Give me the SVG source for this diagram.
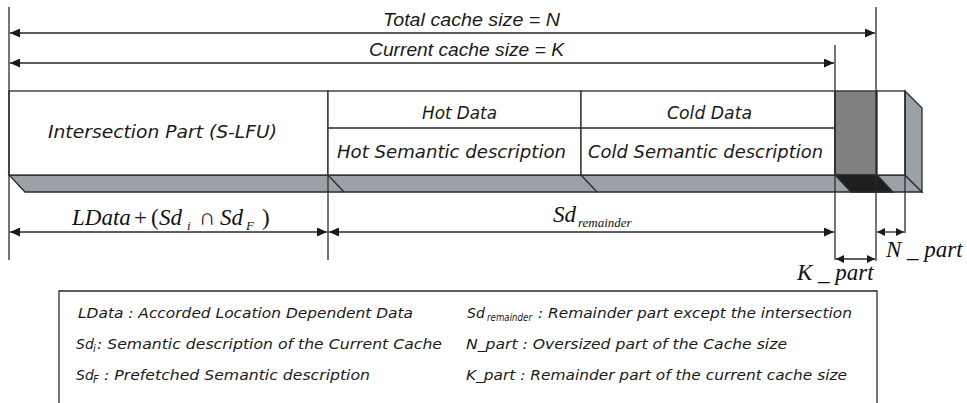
<svg xmlns="http://www.w3.org/2000/svg" width="967" height="403" viewBox="0 0 967 403">
<style>
.ln{stroke:#2a2a2a;stroke-width:1.3;fill:none}
.bx{stroke:#2a2a2a;stroke-width:1.3}
.sans{font-family:"DejaVu Sans","Liberation Sans",sans-serif;font-style:oblique;fill:#1a1a1a}
.top{font-family:"Liberation Sans",Arial,sans-serif;font-style:italic;font-size:19px;fill:#1a1a1a}
.cell{font-size:17px}
.leg{font-size:14px}
.sub{font-size:10px}
.math{font-family:"Liberation Serif","Times New Roman",serif;font-size:23px;fill:#111}
.it{font-style:italic}
.msub{font-size:13px;font-style:italic}
</style>
<defs>
<marker id="ah" markerUnits="userSpaceOnUse" markerWidth="11" markerHeight="9" refX="10" refY="4.5" orient="auto-start-reverse">
<path d="M0,0 L10,4.5 L0,9 z" fill="#1a1a1a"/>
</marker>
<marker id="ahs" markerUnits="userSpaceOnUse" markerWidth="9" markerHeight="8" refX="8" refY="4" orient="auto-start-reverse">
<path d="M0,0 L8,4 L0,8 z" fill="#1a1a1a"/>
</marker>
</defs>
<rect width="967" height="403" fill="#fff"/>

<g id="bottom-face">
<polygon class="bx" points="9,175 905,175 922,192 25,192" fill="#9ca1a8"/>
<line class="ln" x1="328" y1="175" x2="344" y2="192"/>
<line class="ln" x1="581" y1="175" x2="597" y2="192"/>
</g>
<g id="side-face">
<polygon class="bx" points="905,91 922,108 922,192 905,175" fill="#9ca1a8"/>
</g>
<g id="intersection-part">
<rect class="bx" x="9" y="91" width="319" height="84" fill="#fff"/>
<text class="sans cell" x="48" y="138" textLength="229" lengthAdjust="spacingAndGlyphs">Intersection Part (S-LFU)</text>
</g>
<g id="hot-data">
<rect class="bx" x="328" y="91" width="253" height="84" fill="#fff"/>
<line class="ln" x1="328" y1="128" x2="581" y2="128"/>
<text class="sans cell" x="422" y="119" textLength="75" lengthAdjust="spacingAndGlyphs">Hot Data</text>
<text class="sans cell" x="337" y="158" textLength="229" lengthAdjust="spacingAndGlyphs">Hot Semantic description</text>
</g>
<g id="cold-data">
<rect class="bx" x="581" y="91" width="254" height="84" fill="#fff"/>
<line class="ln" x1="581" y1="128" x2="835" y2="128"/>
<text class="sans cell" x="667" y="119" textLength="85" lengthAdjust="spacingAndGlyphs">Cold Data</text>
<text class="sans cell" x="588" y="158" textLength="235" lengthAdjust="spacingAndGlyphs">Cold Semantic description</text>
</g>
<g id="k-part-block">
<rect class="bx" x="835" y="91" width="42" height="84" fill="#808080"/>
<polygon class="bx" points="835,175 877,175 893,192 851,192" fill="#1e1e1e"/>
</g>
<g id="n-part-block">
<rect class="bx" x="877" y="91" width="28" height="84" fill="#fff"/>
</g>

<g id="connectors">
<line class="ln" x1="9" y1="7" x2="9" y2="260"/>
<line class="ln" x1="876" y1="7" x2="876" y2="261"/>
<line class="ln" x1="835" y1="45" x2="835" y2="260"/>
<line class="ln" x1="328" y1="175" x2="328" y2="260"/>
<line class="ln" x1="905" y1="91" x2="905" y2="233"/>
<line class="ln" x1="10" y1="33" x2="875" y2="33" marker-start="url(#ah)" marker-end="url(#ah)"/>
<line class="ln" x1="10" y1="63" x2="834" y2="63" marker-start="url(#ah)" marker-end="url(#ah)"/>
<line class="ln" x1="10" y1="232" x2="327" y2="232" marker-start="url(#ah)" marker-end="url(#ah)"/>
<line class="ln" x1="329" y1="232" x2="834" y2="232" marker-start="url(#ah)" marker-end="url(#ah)"/>
<line class="ln" x1="877" y1="232" x2="904" y2="232" marker-start="url(#ahs)" marker-end="url(#ahs)"/>
<line class="ln" x1="836" y1="259" x2="875" y2="259" marker-start="url(#ahs)" marker-end="url(#ahs)"/>
</g>

<g id="labels">
<text class="top" x="383" y="26" textLength="177" lengthAdjust="spacingAndGlyphs">Total cache size = N</text>
<text class="top" x="369" y="56" textLength="195" lengthAdjust="spacingAndGlyphs">Current cache size = K</text>
<text class="math"><tspan class="it" x="72" y="225">LData</tspan><tspan x="134" y="225">+</tspan><tspan x="151" y="225">(</tspan><tspan class="it" x="159" y="225">Sd</tspan><tspan class="msub" x="187" y="230">i</tspan><tspan x="199" y="225">∩</tspan><tspan class="it" x="220" y="225">Sd</tspan><tspan class="msub" x="246" y="230">F</tspan><tspan x="262" y="225">)</tspan></text>
<text class="math"><tspan class="it" x="553" y="222">Sd</tspan><tspan class="msub" x="578" y="227">remainder</tspan></text>
<text class="math it" x="886" y="257">N _ part</text>
<text class="math it" x="797" y="280">K _ part</text>
</g>

<g id="legend">
<path class="ln" d="M59,404 V291 H877 V404"/>
<text class="sans leg" x="78" y="318" textLength="335" lengthAdjust="spacingAndGlyphs">LData : Accorded Location Dependent Data</text>
<text class="sans leg" x="76" y="349">Sd<tspan class="sub" x="93" y="352">i</tspan></text>
<text class="sans leg" x="97" y="349" textLength="345" lengthAdjust="spacingAndGlyphs">: Semantic description of the Current Cache</text>
<text class="sans leg" x="76" y="380">Sd<tspan class="sub" x="93" y="383">F</tspan></text>
<text class="sans leg" x="104" y="380" textLength="266" lengthAdjust="spacingAndGlyphs">: Prefetched Semantic description</text>
<text class="sans leg" x="467" y="318">Sd<tspan class="sub" x="487" y="321" textLength="45" lengthAdjust="spacingAndGlyphs">remainder</tspan></text>
<text class="sans leg" x="538" y="318" textLength="314" lengthAdjust="spacingAndGlyphs">: Remainder part except the intersection</text>
<text class="sans leg" x="466" y="349" textLength="321" lengthAdjust="spacingAndGlyphs">N_part : Oversized part of the Cache size</text>
<text class="sans leg" x="466" y="380" textLength="381" lengthAdjust="spacingAndGlyphs">K_part : Remainder part of the current cache size</text>
</g>
</svg>
